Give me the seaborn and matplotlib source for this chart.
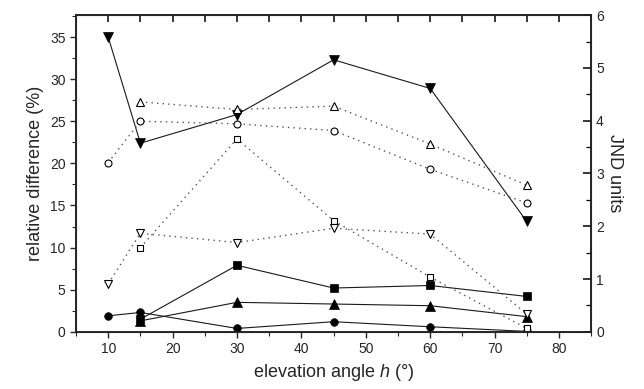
import numpy as np
import pandas as pd
import matplotlib
matplotlib.use("Agg")
import matplotlib.pyplot as plt
import seaborn as sns
from matplotlib.ticker import MultipleLocator

sns.set_style("ticks")
plt.rcParams['font.family'] = ['Liberation Sans', 'DejaVu Sans']
plt.rcParams['mathtext.fontset'] = 'custom'
plt.rcParams['mathtext.it'] = 'Liberation Sans:italic'
plt.rcParams['mathtext.rm'] = 'Liberation Sans'

# elevation angles
x_full = [10, 15, 30, 45, 60, 75]
x_part = [15, 30, 45, 60, 75]

# solid lines, filled markers
filled_dtri = [35.0, 22.4, 25.8, 32.3, 28.9, 13.1]
filled_sq = [1.5, 7.9, 5.2, 5.5, 4.2]
filled_tri = [1.3, 3.5, 3.3, 3.1, 1.8]
filled_circ = [1.9, 2.3, 0.4, 1.2, 0.6, 0.05]

# dotted lines, open markers
open_tri = [27.3, 26.4, 26.8, 22.3, 17.4]
open_circ = [20.1, 25.0, 24.7, 23.9, 19.3, 15.3]
open_sq = [10.0, 22.9, 13.2, 6.5, 0.4]
open_dtri = [5.7, 11.7, 10.6, 12.3, 11.6, 2.1]

jnd_ticks = [0, 1, 2, 3, 4, 5, 6]

fig = plt.figure(figsize=(6.44, 3.89), dpi=100)
ax = fig.add_axes([0.118, 0.147, 0.800, 0.814])

solid = [(x_full, filled_dtri, 'v', 6.5), (x_part, filled_sq, 's', 5.5),
         (x_part, filled_tri, '^', 6.5), (x_full, filled_circ, 'o', 5.5)]
dotted = [(x_part, open_tri, '^', 6), (x_full, open_circ, 'o', 5),
          (x_part, open_sq, 's', 4.5), (x_full, open_dtri, 'v', 6)]

for xs, ys, m, ms in solid:
    sns.lineplot(x=xs, y=ys, ax=ax, color='#1a1a1a', linewidth=0.8,
                 marker=m, markersize=ms, markerfacecolor='black',
                 markeredgecolor='black', markeredgewidth=0.5, zorder=3)

for xs, ys, m, ms in dotted:
    sns.lineplot(x=xs, y=ys, ax=ax, color='#555555', linewidth=1.0,
                 linestyle=(0, (1, 3)), marker=m, markersize=ms,
                 markerfacecolor='white', markeredgecolor='black',
                 markeredgewidth=0.8, zorder=4)

ax.set_xlim(5, 85)
ax.set_ylim(0, 37.6)
ax.xaxis.set_major_locator(MultipleLocator(10))
ax.xaxis.set_minor_locator(MultipleLocator(5))
ax.yaxis.set_major_locator(MultipleLocator(5))
ax.yaxis.set_minor_locator(MultipleLocator(2.5))
ax.tick_params(axis='x', which='both', direction='out', labelsize=10)
ax.tick_params(axis='y', which='both', direction='out', labelsize=10)
ax.tick_params(which='major', length=4, width=1)
ax.tick_params(which='minor', length=3, width=0.8)
ax.set_xlabel('elevation angle $h$ (°)', fontsize=13)
ax.set_ylabel('relative difference (%)', fontsize=13)
for s in ax.spines.values():
    s.set_linewidth(1.2)

# top axis: inward ticks only
ax3 = ax.twiny()
ax3.set_xlim(ax.get_xlim())
ax3.xaxis.set_major_locator(MultipleLocator(5))
ax3.tick_params(axis='x', which='major', direction='in', length=5,
                width=1.1, labeltop=False, colors='black')

ax2 = ax.twinx()
ax2.set_ylim(0, 6)
ax2.set_yticks(jnd_ticks)
ax2.yaxis.set_minor_locator(MultipleLocator(0.5))
ax2.tick_params(axis='y', which='both', direction='in', labelsize=10)
ax2.tick_params(axis='y', which='major', length=6, width=1.1, color='black')
ax2.tick_params(axis='y', which='minor', length=3.5, width=0.9, color='black')
ax2.set_ylabel('JND units', fontsize=13, rotation=-90, labelpad=14)
for s in ax2.spines.values():
    s.set_linewidth(1.2)

fig.savefig('out.png', dpi=100)
